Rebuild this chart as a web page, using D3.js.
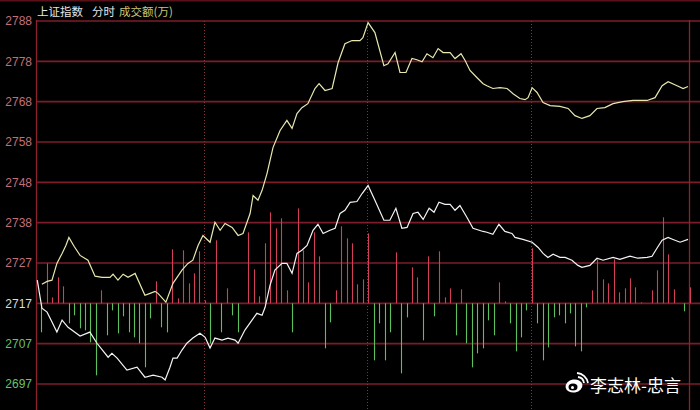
<!DOCTYPE html>
<html><head><meta charset="utf-8">
<script src="https://cdn.jsdelivr.net/npm/d3@7/dist/d3.min.js"></script>
<style>
html,body{margin:0;padding:0;background:#000;}
svg{display:block;}
</style></head>
<body>
<svg id="chart" width="700" height="410"></svg>
<script>
// ---- data ----
const prevClose = 2717.2;
const yTickValues = [2697.0, 2707.1, 2717.2, 2727.3, 2737.4, 2747.5, 2757.6, 2767.7, 2777.8, 2787.9];
const yTickLabels = ["2697", "2707", "2717", "2727", "2738", "2748", "2758", "2768", "2778", "2788"];
const hourMarks = [60, 120, 180];           // 10:30, 11:30/13:00, 14:00 (minutes from open)

// weighted index line (yellow) : [minute, price]
const yellowMinutes = [0.7,2.6,4.4,6.2,8.1,9.5,10.6,12.5,14.7,17.6,20.2,22.8,25.7,26.8,28.6,30.5,32.3,34.9,38.5,40.4,42.2,43.3,46.2,48.8,52.1,54.3,56.1,58.0,59.8,62.4,64.2,66.1,67.9,70.5,72.7,74.5,77.1,78.2,80.0,81.5,83.3,85.5,88.1,90.6,92.5,94.3,96.1,98.3,100.9,102.4,104.6,107.2,109.4,111.9,114.5,117.4,118.5,120.4,122.9,126.2,127.7,130.3,132.1,134.3,136.5,138.3,140.2,142.0,144.2,146.1,147.9,150.5,152.3,154.5,156.0,157.8,160.4,162.6,164.0,166.2,168.8,171.4,173.6,176.1,178.0,179.1,180.6,182.4,184.6,187.2,190.8,193.8,196.3,198.9,201.8,204.4,207.3,210.3,213.9,217.6,222.8,225.7,228.3,230.5,233.8,236.0,237.8];
const yellowPrices = [2722.0,2722.7,2723.0,2727.2,2729.7,2731.7,2733.7,2731.5,2729.2,2728.0,2724.0,2723.7,2723.7,2724.5,2723.0,2724.5,2723.7,2724.7,2719.2,2719.7,2720.2,2719.7,2717.5,2722.2,2725.5,2727.2,2728.0,2731.7,2734.2,2732.5,2737.5,2735.5,2737.2,2736.2,2734.2,2734.7,2739.7,2744.2,2743.0,2745.5,2749.7,2756.2,2760.5,2763.0,2761.0,2764.7,2766.2,2767.2,2771.0,2772.2,2770.5,2771.0,2777.5,2782.2,2783.0,2783.0,2783.7,2787.5,2785.0,2776.7,2777.2,2780.0,2775.0,2775.0,2778.5,2778.2,2777.7,2779.7,2778.7,2781.0,2780.0,2780.0,2778.5,2779.7,2778.0,2775.5,2773.7,2772.2,2771.7,2771.0,2771.2,2771.0,2769.7,2768.5,2768.2,2768.7,2771.2,2770.0,2767.5,2766.7,2766.5,2766.0,2764.2,2763.5,2764.2,2766.0,2766.2,2767.2,2767.7,2768.0,2768.0,2768.7,2771.7,2772.7,2771.7,2771.0,2771.5];

// index line (white) : [minute, price]
const whiteMinutes = [-1.0,0.7,2.6,4.4,6.2,8.1,10.3,14.7,18.3,20.9,25.0,26.4,28.3,31.9,35.6,38.5,41.5,44.8,45.9,47.7,48.8,50.3,52.1,53.9,56.1,58.7,60.6,62.4,64.2,66.8,69.0,71.6,72.7,75.2,77.8,79.6,81.5,82.6,84.4,86.2,88.8,90.6,92.5,94.3,96.1,98.0,100.2,102.0,103.9,106.4,108.3,110.1,111.9,113.8,116.3,118.2,120.4,122.9,126.2,128.4,130.6,132.8,134.7,136.9,138.7,140.6,142.8,144.6,146.4,148.6,150.5,152.3,154.1,156.7,158.9,162.6,164.0,166.2,168.4,170.6,173.2,174.3,177.2,180.6,182.8,184.6,186.4,188.3,190.8,192.7,195.2,197.4,198.9,201.8,204.4,206.6,210.3,212.8,216.5,219.4,222.8,224.6,226.4,228.3,230.5,232.3,234.9,237.8];
const whitePrices = [2723.0,2716.0,2715.0,2712.5,2710.0,2713.0,2711.2,2709.0,2710.0,2707.2,2703.7,2704.7,2703.5,2700.5,2701.2,2698.7,2699.2,2698.7,2698.0,2701.2,2703.5,2703.5,2705.5,2707.2,2708.5,2709.7,2708.7,2706.0,2708.5,2708.0,2708.5,2708.0,2707.2,2710.5,2713.0,2714.7,2714.2,2716.2,2721.7,2725.5,2727.2,2727.2,2724.7,2729.7,2730.5,2731.7,2735.5,2737.0,2734.7,2735.5,2736.0,2739.7,2740.5,2742.5,2742.7,2744.7,2746.7,2743.0,2738.0,2738.0,2741.0,2736.0,2736.2,2739.7,2740.0,2738.2,2741.0,2740.0,2742.5,2742.0,2742.0,2740.5,2741.7,2738.7,2736.0,2735.2,2735.0,2734.5,2737.0,2735.2,2734.7,2733.7,2733.2,2732.5,2731.2,2729.7,2728.7,2729.5,2728.7,2728.7,2728.0,2726.7,2726.2,2726.7,2728.5,2728.0,2728.7,2728.2,2729.0,2728.5,2728.7,2729.0,2731.0,2733.0,2733.7,2733.2,2732.5,2733.2];

// buy/sell strength bars, one per 2 minutes (positive = red up, negative = green down)
const barValues = [-29,40,6,26,17,-20,-12,-25,-27,-39,-72,13,-32,-7,-30,-13,-29,-34,-40,-64,-15,22,-24,-29,54,5,53,20,30,52,3,-40,63,-29,15,-12,-29,0,71,34,7,60,91,75,85,13,-29,95,53,21,71,47,-45,-19,13,77,65,60,19,24,70,-57,-20,-57,-29,51,-70,-14,36,26,-37,47,-13,52,6,15,-32,14,-40,-64,-50,-45,-17,-32,21,2,-20,-48,-34,-7,55,-20,-57,-44,-14,-12,-20,-10,-43,-48,-4,13,44,24,20,44,11,15,25,16,1,0,13,33,86,49,14,0,-8,16];

const titleParts = [
  {text: "上证指数", color: "#e6e6e6"},
  {text: "分时", color: "#e6e6e6"},
  {text: "成交额(万)", color: "#c8c878"}
];
const watermarkText = "李志林-忠言";

// ---- drawing ----
const svg = d3.select("#chart");
const W = 700, H = 410;
const left = 36;
svg.append("rect").attr("width", W).attr("height", H).attr("fill", "#000");

const x = d3.scaleLinear().domain([0, 240]).range([40, 694]);
const y = d3.scaleLinear().domain([2697.0, 2787.9]).range([384, 21]);
const base = y(prevClose);
const b = d3.scaleLinear().domain([-100, 100]).range([base + 100, base - 100]);

const gridColor = "#7c1c2a";

// top strip
svg.append("line").attr("x1", 0).attr("x2", W).attr("y1", 0.5).attr("y2", 0.5)
  .attr("stroke", "#5a1018").attr("stroke-width", 2);

// horizontal grid
svg.append("g").selectAll("line").data(yTickValues).join("line")
  .attr("x1", left).attr("x2", W)
  .attr("y1", d => y(d)).attr("y2", d => y(d))
  .attr("stroke", gridColor).attr("stroke-width", 1.6);

// vertical hour lines (dotted)
svg.append("g").selectAll("line").data(hourMarks).join("line")
  .attr("x1", d => Math.round(x(d)) + 0.5).attr("x2", d => Math.round(x(d)) + 0.5)
  .attr("y1", y(2787.9)).attr("y2", H)
  .attr("stroke", "#8a3040").attr("stroke-width", 1).attr("stroke-dasharray", "1,2");

// left border
svg.append("line").attr("x1", left + 0.5).attr("x2", left + 0.5).attr("y1", y(2787.9) - 1).attr("y2", H)
  .attr("stroke", "#8a2232").attr("stroke-width", 1.3);
// current-time cursor line at end of data
const lastMinute = whiteMinutes[whiteMinutes.length - 1];
svg.append("line").attr("x1", Math.round(x(lastMinute)) + 1.5).attr("x2", Math.round(x(lastMinute)) + 1.5)
  .attr("y1", y(2787.9) - 1).attr("y2", H)
  .attr("stroke", "#8a2232").attr("stroke-width", 1.3);

// y axis labels
const yAxis = d3.axisLeft(y).tickValues(yTickValues).tickSize(0).tickPadding(0)
  .tickFormat((d, i) => yTickLabels[i]);
const gAxis = svg.append("g").attr("transform", "translate(32,0)").call(yAxis);
gAxis.select(".domain").remove();
gAxis.selectAll("text")
  .attr("font-family", "Liberation Sans, Arial, sans-serif")
  .attr("font-size", 12)
  .attr("fill", d => Math.abs(d - prevClose) < 0.01 ? "#dcdcdc" : (d > prevClose ? "#c46e78" : "#6cc06c"));

// bars
svg.append("g").selectAll("line").data(barValues.map((v, i) => ({v, i}))).join("line")
  .filter(d => d.v !== 0)
  .attr("x1", d => Math.round(x(2 * d.i + 0.5)) + 0.5)
  .attr("x2", d => Math.round(x(2 * d.i + 0.5)) + 0.5)
  .attr("y1", b(0))
  .attr("y2", d => b(d.v))
  .attr("stroke", d => d.v > 0 ? "#d0405a" : "#5cc05c")
  .attr("stroke-width", 1.1);

// lines
const line = d3.line().x(d => x(d[0])).y(d => y(d[1]));
svg.append("path").datum(yellowMinutes.map((m, i) => [m, yellowPrices[i]]))
  .attr("d", line).attr("fill", "none").attr("stroke", "#e8e8b0").attr("stroke-width", 1.2);
svg.append("path").datum(whiteMinutes.map((m, i) => [m, whitePrices[i]]))
  .attr("d", line).attr("fill", "none").attr("stroke", "#f4f4f4").attr("stroke-width", 1.2);

// title
const title = svg.append("text").attr("x", 37).attr("y", 16)
  .attr("font-family", "Noto Sans CJK SC, sans-serif").attr("font-size", 11.5);
titleParts.forEach((p, i) => {
  title.append("tspan").attr("dx", i === 0 ? 0 : (i === 1 ? 9 : 4)).attr("fill", p.color).text(p.text);
});

// watermark (weibo-like logo + name)
const wm = svg.append("g").attr("transform", "translate(574,386)");
wm.append("ellipse").attr("rx", 8.5).attr("ry", 6.5).attr("fill", "#fff").attr("transform", "rotate(-10)");
wm.append("ellipse").attr("cx", -1).attr("cy", 1).attr("rx", 4.5).attr("ry", 3.5).attr("fill", "#000");
wm.append("circle").attr("cx", -1.5).attr("cy", 1.5).attr("r", 1.5).attr("fill", "#fff");
wm.append("path").attr("d", "M4,-9 A7,7 0 0 1 10,-3").attr("fill", "none").attr("stroke", "#fff").attr("stroke-width", 1.8);
wm.append("path").attr("d", "M3,-13 A12,12 0 0 1 14,-3").attr("fill", "none").attr("stroke", "#fff").attr("stroke-width", 1.8);
svg.append("text").attr("x", 590).attr("y", 392)
  .attr("font-family", "Noto Sans CJK SC, sans-serif").attr("font-size", 17)
  .attr("fill", "#ffffff").text(watermarkText);
</script>
</body></html>
